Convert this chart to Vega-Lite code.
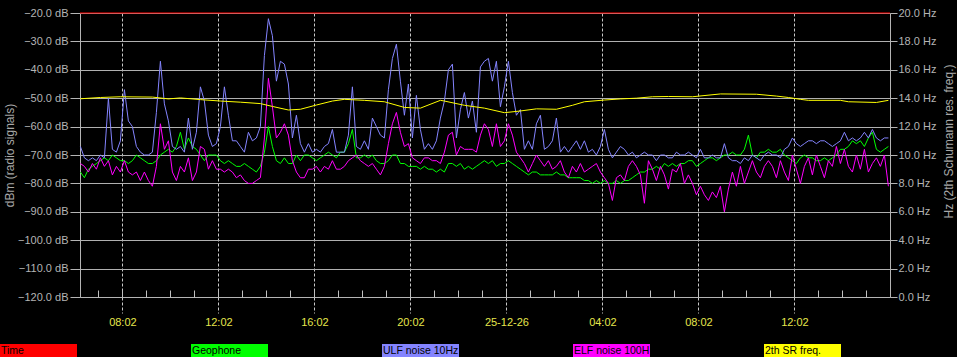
{
"$schema":"https://vega.github.io/schema/vega-lite/v6.json",
"width":810,"height":284,"autosize":"none",
"padding":{"left":80,"top":13,"right":67,"bottom":60},
"background":"#000000",
"config":{"view":{"stroke":null},"font":"Liberation Sans"},
"layer":[
{"data":{"values":[
{"t":"2025-12-25 06:16","r":-20},
{"t":"2025-12-25 06:17","g":-76,"u":-67,"e":-73},{"t":"2025-12-25 06:27","g":-78,"u":-71,"e":-74},{"t":"2025-12-25 06:37","g":-75,"u":-72,"e":-76},{"t":"2025-12-25 06:47","g":-74,"u":-71,"e":-73},{"t":"2025-12-25 06:57","g":-73,"u":-72,"e":-75},{"t":"2025-12-25 07:07","g":-72,"u":-70,"e":-71},
{"t":"2025-12-25 07:17","g":-71,"u":-71,"e":-74},{"t":"2025-12-25 07:27","g":-72,"u":-50,"e":-72},{"t":"2025-12-25 07:37","g":-70,"u":-68,"e":-77},{"t":"2025-12-25 07:47","g":-71,"u":-69,"e":-74},{"t":"2025-12-25 07:57","g":-72,"u":-65,"e":-76},{"t":"2025-12-25 08:07","g":-72,"u":-47,"e":-72},
{"t":"2025-12-25 08:17","g":-73,"u":-58,"e":-76},{"t":"2025-12-25 08:27","g":-72,"u":-60,"e":-77},{"t":"2025-12-25 08:37","g":-70,"u":-67,"e":-76},{"t":"2025-12-25 08:47","g":-71,"u":-69,"e":-79},{"t":"2025-12-25 08:57","g":-72,"u":-70,"e":-76},{"t":"2025-12-25 09:07","g":-73,"u":-70,"e":-79},
{"t":"2025-12-25 09:17","g":-73,"u":-69,"e":-81},{"t":"2025-12-25 09:27","g":-72,"u":-55,"e":-74},{"t":"2025-12-25 09:37","g":-70,"u":-37,"e":-59},{"t":"2025-12-25 09:47","g":-69,"u":-52,"e":-68},{"t":"2025-12-25 09:57","g":-68,"u":-58,"e":-65},{"t":"2025-12-25 10:07","g":-69,"u":-67,"e":-76},
{"t":"2025-12-25 10:17","g":-67,"u":-68,"e":-79},{"t":"2025-12-25 10:27","g":-62,"u":-67,"e":-74},{"t":"2025-12-25 10:37","g":-68,"u":-69,"e":-76},{"t":"2025-12-25 10:47","g":-64,"u":-57,"e":-71},{"t":"2025-12-25 10:57","g":-67,"u":-68,"e":-79},{"t":"2025-12-25 11:07","g":-68,"u":-62,"e":-76},
{"t":"2025-12-25 11:17","g":-70,"u":-46,"e":-67},{"t":"2025-12-25 11:27","g":-72,"u":-51,"e":-68},{"t":"2025-12-25 11:37","g":-70,"u":-63,"e":-75},{"t":"2025-12-25 11:47","g":-70,"u":-67,"e":-72},{"t":"2025-12-25 11:57","g":-70,"u":-66,"e":-75},{"t":"2025-12-25 12:07","g":-72,"u":-60,"e":-75},
{"t":"2025-12-25 12:17","g":-73,"u":-46,"e":-76},{"t":"2025-12-25 12:27","g":-72,"u":-56,"e":-75},{"t":"2025-12-25 12:37","g":-73,"u":-65,"e":-76},{"t":"2025-12-25 12:47","g":-74,"u":-65,"e":-78},{"t":"2025-12-25 12:57","g":-74,"u":-67,"e":-77},{"t":"2025-12-25 13:07","g":-73,"u":-69,"e":-79},
{"t":"2025-12-25 13:17","g":-74,"u":-62,"e":-80},{"t":"2025-12-25 13:27","g":-75,"u":-65,"e":-80},{"t":"2025-12-25 13:37","g":-76,"u":-64,"e":-79},{"t":"2025-12-25 13:47","g":-74,"u":-60,"e":-78},{"t":"2025-12-25 13:57","g":-69,"u":-35,"e":-64},{"t":"2025-12-25 14:07","g":-60,"u":-22,"e":-43},
{"t":"2025-12-25 14:17","g":-67,"u":-28,"e":-53},{"t":"2025-12-25 14:27","g":-72,"u":-44,"e":-64},{"t":"2025-12-25 14:37","g":-73,"u":-37,"e":-62},{"t":"2025-12-25 14:47","g":-71,"u":-38,"e":-59},{"t":"2025-12-25 14:57","g":-73,"u":-45,"e":-63},{"t":"2025-12-25 15:07","g":-73,"u":-64,"e":-72},
{"t":"2025-12-25 15:17","g":-70,"u":-56,"e":-76},{"t":"2025-12-25 15:27","g":-72,"u":-66,"e":-78},{"t":"2025-12-25 15:37","g":-70,"u":-69,"e":-78},{"t":"2025-12-25 15:47","g":-70,"u":-66,"e":-75},{"t":"2025-12-25 15:57","g":-71,"u":-69,"e":-75},{"t":"2025-12-25 16:07","g":-72,"u":-68,"e":-74},
{"t":"2025-12-25 16:17","g":-71,"u":-69,"e":-76},{"t":"2025-12-25 16:27","g":-70,"u":-67,"e":-74},{"t":"2025-12-25 16:37","g":-69,"u":-66,"e":-75},{"t":"2025-12-25 16:47","g":-70,"u":-61,"e":-72},{"t":"2025-12-25 16:57","g":-71,"u":-69,"e":-75},{"t":"2025-12-25 17:07","g":-69,"u":-69,"e":-75},
{"t":"2025-12-25 17:17","g":-69,"u":-69,"e":-74},{"t":"2025-12-25 17:27","g":-66,"u":-63,"e":-72},{"t":"2025-12-25 17:37","g":-61,"u":-46,"e":-71},{"t":"2025-12-25 17:47","g":-71,"u":-67,"e":-70},{"t":"2025-12-25 17:57","g":-71,"u":-68,"e":-72},{"t":"2025-12-25 18:07","g":-70,"u":-65,"e":-73},
{"t":"2025-12-25 18:17","g":-71,"u":-68,"e":-74},{"t":"2025-12-25 18:27","g":-70,"u":-57,"e":-73},{"t":"2025-12-25 18:37","g":-72,"u":-60,"e":-75},{"t":"2025-12-25 18:47","g":-73,"u":-63,"e":-77},{"t":"2025-12-25 18:57","g":-73,"u":-64,"e":-74},{"t":"2025-12-25 19:07","g":-72,"u":-47,"e":-66},
{"t":"2025-12-25 19:17","g":-70,"u":-36,"e":-59},{"t":"2025-12-25 19:27","g":-70,"u":-31,"e":-55},{"t":"2025-12-25 19:37","g":-73,"u":-44,"e":-62},{"t":"2025-12-25 19:47","g":-73,"u":-56,"e":-67},{"t":"2025-12-25 19:57","g":-74,"u":-45,"e":-66},{"t":"2025-12-25 20:07","g":-74,"u":-64,"e":-71},
{"t":"2025-12-25 20:17","g":-74,"u":-49,"e":-72},{"t":"2025-12-25 20:27","g":-75,"u":-61,"e":-73},{"t":"2025-12-25 20:37","g":-74,"u":-68,"e":-71},{"t":"2025-12-25 20:47","g":-75,"u":-66,"e":-71},{"t":"2025-12-25 20:57","g":-75,"u":-68,"e":-72},{"t":"2025-12-25 21:07","g":-76,"u":-65,"e":-72},
{"t":"2025-12-25 21:17","g":-75,"u":-57,"e":-73},{"t":"2025-12-25 21:27","g":-76,"u":-51,"e":-69},{"t":"2025-12-25 21:37","g":-73,"u":-40,"e":-63},{"t":"2025-12-25 21:47","g":-73,"u":-38,"e":-62},{"t":"2025-12-25 21:57","g":-74,"u":-64,"e":-70},{"t":"2025-12-25 22:07","g":-73,"u":-54,"e":-67},
{"t":"2025-12-25 22:17","g":-75,"u":-48,"e":-68},{"t":"2025-12-25 22:27","g":-74,"u":-57,"e":-68},{"t":"2025-12-25 22:37","g":-75,"u":-51,"e":-68},{"t":"2025-12-25 22:47","g":-74,"u":-62,"e":-69},{"t":"2025-12-25 22:57","g":-73,"u":-39,"e":-63},{"t":"2025-12-25 23:07","g":-72,"u":-37,"e":-59},
{"t":"2025-12-25 23:17","g":-73,"u":-36,"e":-61},{"t":"2025-12-25 23:27","g":-72,"u":-44,"e":-67},{"t":"2025-12-25 23:37","g":-74,"u":-37,"e":-59},{"t":"2025-12-25 23:47","g":-73,"u":-53,"e":-67},{"t":"2025-12-25 23:57","g":-73,"u":-46,"e":-65},{"t":"2025-12-26 00:07","g":-72,"u":-37,"e":-59},
{"t":"2025-12-26 00:17","g":-73,"u":-48,"e":-63},{"t":"2025-12-26 00:27","g":-74,"u":-56,"e":-69},{"t":"2025-12-26 00:37","g":-75,"u":-54,"e":-71},{"t":"2025-12-26 00:47","g":-76,"u":-68,"e":-73},{"t":"2025-12-26 00:57","g":-77,"u":-65,"e":-76},{"t":"2025-12-26 01:07","g":-76,"u":-68,"e":-73},
{"t":"2025-12-26 01:17","g":-76,"u":-59,"e":-70},{"t":"2025-12-26 01:27","g":-77,"u":-56,"e":-72},{"t":"2025-12-26 01:37","g":-77,"u":-68,"e":-74},{"t":"2025-12-26 01:47","g":-77,"u":-67,"e":-72},{"t":"2025-12-26 01:57","g":-77,"u":-65,"e":-75},{"t":"2025-12-26 02:07","g":-76,"u":-57,"e":-74},
{"t":"2025-12-26 02:17","g":-77,"u":-69,"e":-72},{"t":"2025-12-26 02:27","g":-77,"u":-67,"e":-76},{"t":"2025-12-26 02:37","g":-78,"u":-69,"e":-78},{"t":"2025-12-26 02:47","g":-78,"u":-67,"e":-74},{"t":"2025-12-26 02:57","g":-78,"u":-65,"e":-76},{"t":"2025-12-26 03:07","g":-78,"u":-68,"e":-73},
{"t":"2025-12-26 03:17","g":-79,"u":-65,"e":-76},{"t":"2025-12-26 03:27","g":-79,"u":-69,"e":-75},{"t":"2025-12-26 03:37","g":-80,"u":-68,"e":-74},{"t":"2025-12-26 03:47","g":-79,"u":-70,"e":-73},{"t":"2025-12-26 03:57","g":-80,"u":-67,"e":-76},{"t":"2025-12-26 04:07","g":-79,"u":-61,"e":-78},
{"t":"2025-12-26 04:17","g":-80,"u":-68,"e":-80},{"t":"2025-12-26 04:27","g":-80,"u":-71,"e":-86},{"t":"2025-12-26 04:37","g":-79,"u":-69,"e":-78},{"t":"2025-12-26 04:47","g":-80,"u":-67,"e":-77},{"t":"2025-12-26 04:57","g":-79,"u":-68,"e":-79},{"t":"2025-12-26 05:07","g":-79,"u":-70,"e":-74},
{"t":"2025-12-26 05:17","g":-78,"u":-69,"e":-72},{"t":"2025-12-26 05:27","g":-77,"u":-71,"e":-74},{"t":"2025-12-26 05:37","g":-76,"u":-70,"e":-77},{"t":"2025-12-26 05:47","g":-76,"u":-69,"e":-87},{"t":"2025-12-26 05:57","g":-75,"u":-70,"e":-72},{"t":"2025-12-26 06:07","g":-75,"u":-70,"e":-75},
{"t":"2025-12-26 06:17","g":-74,"u":-72,"e":-79},{"t":"2025-12-26 06:27","g":-75,"u":-70,"e":-74},{"t":"2025-12-26 06:37","g":-73,"u":-70,"e":-77},{"t":"2025-12-26 06:47","g":-74,"u":-71,"e":-82},{"t":"2025-12-26 06:57","g":-73,"u":-71,"e":-75},{"t":"2025-12-26 07:07","g":-74,"u":-69,"e":-76},
{"t":"2025-12-26 07:17","g":-73,"u":-70,"e":-73},{"t":"2025-12-26 07:27","g":-73,"u":-70,"e":-80},{"t":"2025-12-26 07:37","g":-72,"u":-69,"e":-77},{"t":"2025-12-26 07:47","g":-72,"u":-70,"e":-80},{"t":"2025-12-26 07:57","g":-74,"u":-71,"e":-84},{"t":"2025-12-26 08:07","g":-73,"u":-68,"e":-81},
{"t":"2025-12-26 08:17","g":-72,"u":-71,"e":-84},{"t":"2025-12-26 08:27","g":-71,"u":-71,"e":-86},{"t":"2025-12-26 08:37","g":-71,"u":-70,"e":-83},{"t":"2025-12-26 08:47","g":-72,"u":-71,"e":-85},{"t":"2025-12-26 08:57","g":-71,"u":-71,"e":-81},{"t":"2025-12-26 09:07","g":-70,"u":-66,"e":-90},
{"t":"2025-12-26 09:17","g":-70,"u":-71,"e":-82},{"t":"2025-12-26 09:27","g":-69,"u":-72,"e":-76},{"t":"2025-12-26 09:37","g":-70,"u":-72,"e":-81},{"t":"2025-12-26 09:47","g":-70,"u":-73,"e":-74},{"t":"2025-12-26 09:57","g":-68,"u":-71,"e":-80},{"t":"2025-12-26 10:07","g":-63,"u":-72,"e":-76},
{"t":"2025-12-26 10:17","g":-70,"u":-70,"e":-72},{"t":"2025-12-26 10:27","g":-71,"u":-71,"e":-76},{"t":"2025-12-26 10:37","g":-69,"u":-72,"e":-78},{"t":"2025-12-26 10:47","g":-69,"u":-70,"e":-74},{"t":"2025-12-26 10:57","g":-68,"u":-69,"e":-72},{"t":"2025-12-26 11:07","g":-69,"u":-70,"e":-74},
{"t":"2025-12-26 11:17","g":-69,"u":-70,"e":-78},{"t":"2025-12-26 11:27","g":-68,"u":-71,"e":-72},{"t":"2025-12-26 11:37","g":-70,"u":-68,"e":-76},{"t":"2025-12-26 11:47","g":-71,"u":-67,"e":-79},{"t":"2025-12-26 11:57","g":-72,"u":-64,"e":-70},{"t":"2025-12-26 12:07","g":-73,"u":-66,"e":-75},
{"t":"2025-12-26 12:17","g":-71,"u":-67,"e":-80},{"t":"2025-12-26 12:27","g":-70,"u":-66,"e":-74},{"t":"2025-12-26 12:37","g":-71,"u":-65,"e":-71},{"t":"2025-12-26 12:47","g":-71,"u":-65,"e":-77},{"t":"2025-12-26 12:57","g":-72,"u":-66,"e":-70},{"t":"2025-12-26 13:07","g":-72,"u":-65,"e":-74},
{"t":"2025-12-26 13:17","g":-71,"u":-65,"e":-78},{"t":"2025-12-26 13:27","g":-72,"u":-66,"e":-72},{"t":"2025-12-26 13:37","g":-71,"u":-67,"e":-74},{"t":"2025-12-26 13:47","g":-70,"u":-66,"e":-67},{"t":"2025-12-26 13:57","g":-68,"u":-65,"e":-73},{"t":"2025-12-26 14:07","g":-68,"u":-62,"e":-68},
{"t":"2025-12-26 14:17","g":-67,"u":-65,"e":-74},{"t":"2025-12-26 14:27","g":-65,"u":-64,"e":-76},{"t":"2025-12-26 14:37","g":-66,"u":-65,"e":-70},{"t":"2025-12-26 14:47","g":-65,"u":-64,"e":-75},{"t":"2025-12-26 14:57","g":-67,"u":-62,"e":-68},{"t":"2025-12-26 15:07","g":-64,"u":-64,"e":-76},
{"t":"2025-12-26 15:17","g":-62,"u":-61,"e":-73},{"t":"2025-12-26 15:27","g":-68,"u":-64,"e":-71},{"t":"2025-12-26 15:37","g":-69,"u":-65,"e":-74},{"t":"2025-12-26 15:47","g":-68,"u":-64,"e":-70},{"t":"2025-12-26 15:57","g":-67,"u":-64,"e":-81},
{"t":"2025-12-26 16:01","r":-20}
],"format":{"parse":{"t":"date:'%Y-%m-%d %H:%M'"}}},
"transform":[{"fold":["r","g","u","e"],"as":["s","v"]}],
"mark":{"type":"line","strokeWidth":1,"invalid":"filter"},
"encoding":{
"x":{"field":"t","type":"temporal","title":null,
"scale":{"domain":[{"year":2025,"month":12,"date":25,"hours":6,"minutes":16},{"year":2025,"month":12,"date":26,"hours":16,"minutes":1}]},
"axis":{"orient":"bottom","values":[
{"year":2025,"month":12,"date":25,"hours":8,"minutes":2},{"year":2025,"month":12,"date":25,"hours":12,"minutes":2},{"year":2025,"month":12,"date":25,"hours":16,"minutes":2},{"year":2025,"month":12,"date":25,"hours":20,"minutes":2},
{"year":2025,"month":12,"date":26,"hours":0,"minutes":2},{"year":2025,"month":12,"date":26,"hours":4,"minutes":2},{"year":2025,"month":12,"date":26,"hours":8,"minutes":2},{"year":2025,"month":12,"date":26,"hours":12,"minutes":2}],
"labelExpr":"hours(datum.value)==0 ? timeFormat(datum.value,'%y-%m-%d') : timeFormat(datum.value,'%H:%M')",
"labelOverlap":false,"labelFlush":false,"labelColor":"#e6e64c","labelFontSize":11,"labelPadding":3,
"domainColor":"#b4b4b4","tickColor":"#c8c8c8","tickSize":16,"tickDash":[3,2],
"grid":true,"gridColor":"#c8c8c8","gridDash":[3,2]}},
"y":{"field":"v","type":"quantitative","scale":{"domain":[-120,-20]},
"axis":{"orient":"left","values":[-120,-110,-100,-90,-80,-70,-60,-50,-40,-30,-20],
"labelExpr":"format(datum.value,'.1f') + ' dB'","labelColor":"#b4b4b4","labelFontSize":11,"labelPadding":2,
"tickSize":10,"tickColor":"#b4b4b4","domainColor":"#b4b4b4","grid":true,"gridColor":"#b0b0b0",
"title":"dBm (radio signals)","titleColor":"#a8a8a8","titleFontSize":12,"titleFontWeight":"normal","titleX":-71,"titleBaseline":"middle"}},
"color":{"field":"s","type":"nominal",
"scale":{"domain":["r","g","u","e","sr"],"range":["#ff0000","#00ff00","#8484ff","#ff00ff","#ffff00"]},
"legend":{"orient":"none","legendX":-80,"legendY":331,"direction":"horizontal","columns":5,"title":null,
"symbolType":"M-1,-1H10V1H-1Z","symbolSize":196,"symbolStrokeWidth":0,"symbolOpacity":1,
"labelColor":"#000000","labelFontSize":10.5,"labelLimit":76,"labelOffset":-13,"columnPadding":114,"gridAlign":"all","padding":0,
"labelExpr":"datum.label=='r'?'Time':datum.label=='g'?'Geophone':datum.label=='u'?'ULF noise 10Hz':datum.label=='e'?'ELF noise 100H':'2th SR freq.'",
"encode":{"symbols":{"update":{"fill":{"scale":"color","field":"value"},"stroke":{"value":"transparent"},"opacity":{"value":1}}}}}}
}},
{"data":{"values":[
{"t":"2025-12-25 06:17","hz":13.96,"s":"sr"},{"t":"2025-12-25 07:07","hz":14.05,"s":"sr"},{"t":"2025-12-25 07:57","hz":14.1,"s":"sr"},{"t":"2025-12-25 09:17","hz":14.08,"s":"sr"},{"t":"2025-12-25 09:57","hz":13.95,"s":"sr"},{"t":"2025-12-25 10:27","hz":14.02,"s":"sr"},{"t":"2025-12-25 11:17","hz":13.9,"s":"sr"},{"t":"2025-12-25 12:07","hz":13.8,"s":"sr"},{"t":"2025-12-25 12:57","hz":13.72,"s":"sr"},{"t":"2025-12-25 13:47","hz":13.62,"s":"sr"},{"t":"2025-12-25 14:17","hz":13.42,"s":"sr"},{"t":"2025-12-25 14:57","hz":13.17,"s":"sr"},{"t":"2025-12-25 15:27","hz":13.22,"s":"sr"},{"t":"2025-12-25 16:07","hz":13.52,"s":"sr"},{"t":"2025-12-25 16:47","hz":13.8,"s":"sr"},{"t":"2025-12-25 17:17","hz":13.92,"s":"sr"},{"t":"2025-12-25 18:07","hz":13.85,"s":"sr"},{"t":"2025-12-25 18:57","hz":13.75,"s":"sr"},{"t":"2025-12-25 19:47","hz":13.35,"s":"sr"},{"t":"2025-12-25 20:27","hz":13.3,"s":"sr"},{"t":"2025-12-25 21:17","hz":13.85,"s":"sr"},{"t":"2025-12-25 21:27","hz":13.8,"s":"sr"},{"t":"2025-12-25 22:17","hz":13.5,"s":"sr"},{"t":"2025-12-25 23:07","hz":13.3,"s":"sr"},{"t":"2025-12-25 23:57","hz":12.98,"s":"sr"},
{"t":"2025-12-26 00:37","hz":13.1,"s":"sr"},{"t":"2025-12-26 01:17","hz":13.25,"s":"sr"},{"t":"2025-12-26 02:07","hz":13.22,"s":"sr"},{"t":"2025-12-26 02:47","hz":13.5,"s":"sr"},{"t":"2025-12-26 03:17","hz":13.75,"s":"sr"},{"t":"2025-12-26 04:07","hz":13.87,"s":"sr"},{"t":"2025-12-26 04:47","hz":13.95,"s":"sr"},{"t":"2025-12-26 05:27","hz":14.0,"s":"sr"},{"t":"2025-12-26 06:07","hz":14.1,"s":"sr"},{"t":"2025-12-26 06:47","hz":14.12,"s":"sr"},{"t":"2025-12-26 07:47","hz":14.1,"s":"sr"},{"t":"2025-12-26 08:57","hz":14.3,"s":"sr"},{"t":"2025-12-26 10:27","hz":14.28,"s":"sr"},{"t":"2025-12-26 11:17","hz":14.15,"s":"sr"},{"t":"2025-12-26 11:47","hz":14.05,"s":"sr"},{"t":"2025-12-26 12:17","hz":13.92,"s":"sr"},{"t":"2025-12-26 12:37","hz":13.85,"s":"sr"},{"t":"2025-12-26 13:57","hz":13.85,"s":"sr"},{"t":"2025-12-26 14:17","hz":13.75,"s":"sr"},{"t":"2025-12-26 15:27","hz":13.7,"s":"sr"},{"t":"2025-12-26 15:57","hz":13.85,"s":"sr"}
],"format":{"parse":{"t":"date:'%Y-%m-%d %H:%M'"}}},
"mark":{"type":"line","strokeWidth":1},
"encoding":{"x":{"field":"t","type":"temporal","title":null,
"axis":{"orient":"bottom","values":[
{"year":2025,"month":12,"date":25,"hours":7,"minutes":2},{"year":2025,"month":12,"date":25,"hours":8,"minutes":2},{"year":2025,"month":12,"date":25,"hours":9,"minutes":2},{"year":2025,"month":12,"date":25,"hours":10,"minutes":2},{"year":2025,"month":12,"date":25,"hours":11,"minutes":2},{"year":2025,"month":12,"date":25,"hours":12,"minutes":2},{"year":2025,"month":12,"date":25,"hours":13,"minutes":2},{"year":2025,"month":12,"date":25,"hours":14,"minutes":2},{"year":2025,"month":12,"date":25,"hours":15,"minutes":2},{"year":2025,"month":12,"date":25,"hours":16,"minutes":2},{"year":2025,"month":12,"date":25,"hours":17,"minutes":2},{"year":2025,"month":12,"date":25,"hours":18,"minutes":2},{"year":2025,"month":12,"date":25,"hours":19,"minutes":2},{"year":2025,"month":12,"date":25,"hours":20,"minutes":2},{"year":2025,"month":12,"date":25,"hours":21,"minutes":2},{"year":2025,"month":12,"date":25,"hours":22,"minutes":2},{"year":2025,"month":12,"date":25,"hours":23,"minutes":2},
{"year":2025,"month":12,"date":26,"hours":0,"minutes":2},{"year":2025,"month":12,"date":26,"hours":1,"minutes":2},{"year":2025,"month":12,"date":26,"hours":2,"minutes":2},{"year":2025,"month":12,"date":26,"hours":3,"minutes":2},{"year":2025,"month":12,"date":26,"hours":4,"minutes":2},{"year":2025,"month":12,"date":26,"hours":5,"minutes":2},{"year":2025,"month":12,"date":26,"hours":6,"minutes":2},{"year":2025,"month":12,"date":26,"hours":7,"minutes":2},{"year":2025,"month":12,"date":26,"hours":8,"minutes":2},{"year":2025,"month":12,"date":26,"hours":9,"minutes":2},{"year":2025,"month":12,"date":26,"hours":10,"minutes":2},{"year":2025,"month":12,"date":26,"hours":11,"minutes":2},{"year":2025,"month":12,"date":26,"hours":12,"minutes":2},{"year":2025,"month":12,"date":26,"hours":13,"minutes":2},{"year":2025,"month":12,"date":26,"hours":14,"minutes":2},{"year":2025,"month":12,"date":26,"hours":15,"minutes":2}],
"labels":false,"domain":false,"grid":false,"tickSize":-7,"tickColor":"#c0c0c0"}},
"y":{"field":"hz","type":"quantitative","scale":{"domain":[0,20]},
"axis":{"orient":"right","values":[0,2,4,6,8,10,12,14,16,18,20],"labelExpr":"format(datum.value,'.1f') + ' Hz'",
"labelColor":"#b4b4b4","labelFontSize":11,"labelPadding":1,"tickSize":7,"tickColor":"#b4b4b4","domainColor":"#b4b4b4","grid":false,
"title":"Hz (2th Schumann res. freq.)","titleColor":"#a8a8a8","titleFontSize":12,"titleFontWeight":"normal","titleAngle":270,"titleX":58,"titleY":128,"titleBaseline":"middle","titleAlign":"center"}},
"color":{"field":"s","type":"nominal","scale":{"domain":["r","g","u","e","sr"],"range":["#ff0000","#00ff00","#8484ff","#ff00ff","#ffff00"]},"legend":null}}}
],
"resolve":{"scale":{"y":"independent"},"axis":{"x":"independent"}}
}
